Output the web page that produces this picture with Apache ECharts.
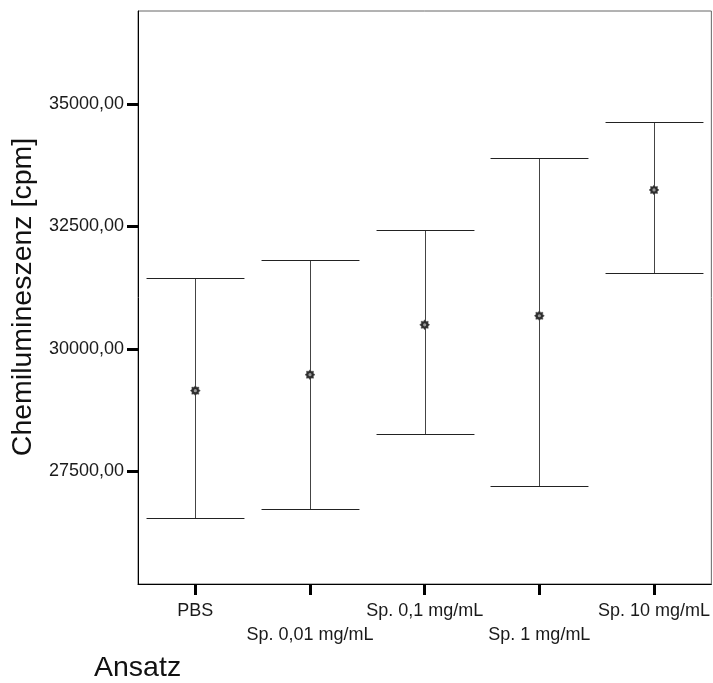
<!DOCTYPE html>
<html>
<head>
<meta charset="utf-8">
<script src="https://cdn.jsdelivr.net/npm/echarts@6/dist/echarts.min.js"></script>
<style>
  html, body { margin: 0; padding: 0; background: #fff; }
  #chart { width: 713px; height: 683px; }
</style>
</head>
<body>
<div id="chart"></div>
<script>
// Groups and their mean chemiluminescence with error-bar limits
const categories = ['PBS', 'Sp. 0,01 mg/mL', 'Sp. 0,1 mg/mL', 'Sp. 1 mg/mL', 'Sp. 10 mg/mL'];
const means = [29148, 29474, 30493, 30677, 33246];
const upper = [31458, 31819, 32431, 33905, 34627];
const lower = [26552, 26741, 28257, 27196, 31548];
const yTicks = [27500, 30000, 32500, 35000];

const FONT = '"Liberation Sans", Arial, sans-serif';

const seriesData = categories.map((c, i) => [i, lower[i], means[i], upper[i]]);

function renderErrorBar(params, api) {
  const i = api.value(0);
  const lo = api.coord([i, api.value(1)]);
  const mid = api.coord([i, api.value(2)]);
  const hi = api.coord([i, api.value(3)]);
  const half = api.size([1, 0])[0] * 0.427;
  const x = Math.round(lo[0]) + 0.5;
  const yHi = Math.round(hi[1]) + 0.5;
  const yLo = Math.round(lo[1]) + 0.5;

  // small gear-shaped marker for the mean
  const pts = [];
  const n = 8;
  for (let k = 0; k < n * 2; k++) {
    const r = k % 2 === 0 ? 5 : 3.6;
    const a = Math.PI * k / n;
    pts.push([mid[0] + r * Math.cos(a), mid[1] + r * Math.sin(a)]);
  }

  return {
    type: 'group',
    children: [
      { type: 'line', shape: { x1: x, y1: yHi, x2: x, y2: yLo },
        style: { stroke: '#444', lineWidth: 1 } },
      { type: 'line', shape: { x1: x - half, y1: yHi, x2: x + half, y2: yHi },
        style: { stroke: '#222', lineWidth: 1 } },
      { type: 'line', shape: { x1: x - half, y1: yLo, x2: x + half, y2: yLo },
        style: { stroke: '#222', lineWidth: 1 } },
      { type: 'polygon', shape: { points: pts },
        style: { fill: '#2e2e2e', stroke: '#555', lineWidth: 0.5 } },
      { type: 'circle', shape: { cx: mid[0], cy: mid[1], r: 1.6 },
        style: { fill: '#9a9a9a' } }
    ]
  };
}

const chart = echarts.init(document.getElementById('chart'), null, { renderer: 'canvas' });
chart.setOption({
  animation: false,
  backgroundColor: '#fff',
  grid: {
    left: 138, right: 1, top: 11, bottom: 99,
    show: true, borderColor: '#666', borderWidth: 1, backgroundColor: 'transparent'
  },
  xAxis: {
    type: 'category',
    data: categories,
    boundaryGap: true,
    axisLine: { show: true, lineStyle: { color: '#000', width: 1 } },
    axisTick: { show: true, alignWithLabel: true, length: 11, lineStyle: { color: '#000', width: 3 } },
    axisLabel: {
      interval: 0,
      margin: 15,
      fontFamily: FONT,
      fontSize: 18,
      lineHeight: 24,
      color: '#1a1a1a',
      hideOverlap: false,
      formatter: (v, i) => (i % 2 === 1 ? '\n' + v : v)
    },
    splitLine: { show: false }
  },
  yAxis: {
    type: 'value',
    min: 25200,
    max: 36900,
    axisLine: { show: true, lineStyle: { color: '#000', width: 1 } },
    axisTick: { show: true, length: 11, customValues: yTicks, lineStyle: { color: '#000', width: 3 } },
    axisLabel: {
      margin: 14,
      fontFamily: FONT,
      fontSize: 18,
      color: '#1a1a1a',
      customValues: yTicks,
      formatter: v => v.toFixed(2).replace('.', ',')
    },
    splitLine: { show: false }
  },
  graphic: [
    {
      type: 'text',
      x: 23, y: 297,
      rotation: Math.PI / 2,
      style: {
        text: 'Chemilumineszenz [cpm]',
        font: '28.5px ' + FONT,
        fill: '#111',
        align: 'center',
        verticalAlign: 'middle'
      }
    },
    {
      type: 'text',
      x: 94, y: 668,
      style: {
        text: 'Ansatz',
        font: '28.5px ' + FONT,
        fill: '#111',
        align: 'left',
        verticalAlign: 'middle'
      }
    }
  ],
  series: [{
    type: 'custom',
    renderItem: renderErrorBar,
    encode: { x: 0, y: [1, 2, 3] },
    data: seriesData,
    clip: false
  }]
});
</script>
</body>
</html>
